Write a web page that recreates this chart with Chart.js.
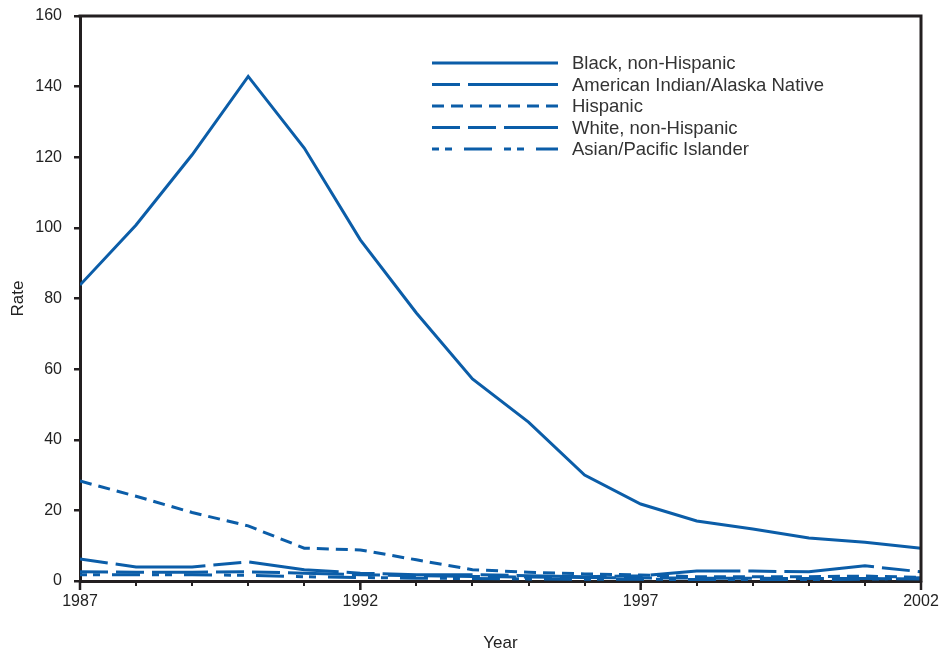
<!DOCTYPE html>
<html>
<head>
<meta charset="utf-8">
<script src="https://cdn.jsdelivr.net/npm/chart.js@4/dist/chart.umd.min.js"></script>
<style>
html,body{margin:0;padding:0;background:#fff;}
#wrap{width:942px;height:652px;position:relative;}
</style>
</head>
<body>
<div id="wrap"><canvas id="c" width="942" height="652"></canvas></div>
<script>
const years = [1987,1988,1989,1990,1991,1992,1993,1994,1995,1996,1997,1998,1999,2000,2001,2002];
const black = [83.8,100.8,120.7,142.9,122.6,96.6,75.9,57.2,45.0,30.0,21.8,17.0,14.7,12.2,11.0,9.3];
const aian = [6.2,4.0,4.0,5.4,3.2,2.2,1.8,1.8,1.5,1.2,1.5,2.8,2.8,2.6,4.3,2.6];
const hispanic = [28.3,24.0,19.4,15.6,9.3,8.8,6.0,3.2,2.5,2.0,1.7,1.2,1.2,1.2,1.4,1.0];
const white = [2.6,2.5,2.5,2.6,2.2,1.8,1.5,1.3,1.1,1.0,0.9,0.8,0.8,0.7,0.7,0.6];
const asian = [1.8,1.8,1.8,1.6,1.2,1.0,0.8,0.7,0.6,0.5,0.5,0.4,0.4,0.4,0.5,0.9];
const seriesLabels = ["Black, non-Hispanic","American Indian/Alaska Native","Hispanic","White, non-Hispanic","Asian/Pacific Islander"];
const labeledYears = [1987,1992,1997,2002];
const yTicks = [0,20,40,60,80,100,120,140,160];

const BLUE = '#0b5da8';
const INK = '#231f20';
const FONT = '"Liberation Sans", Arial, sans-serif';

function pts(vals){ return years.map((y,i)=>({x:y,y:vals[i]})); }
const dashes = [[], [28,8,90,8], [12,7], [28,8,28,8,56,8], [7,6,7,12,28,12]];
const vals = [black, aian, hispanic, white, asian];

const datasets = vals.map((v,i)=>({
  label: seriesLabels[i],
  data: pts(v),
  borderColor: BLUE,
  backgroundColor: BLUE,
  borderWidth: 3,
  borderDash: dashes[i],
  pointRadius: 0,
  tension: 0,
  fill: false
})).reverse();

const framePlugin = {
  id: 'frame',
  afterDraw(chart){
    const ctx = chart.ctx, a = chart.chartArea;
    const xs = chart.scales.x;
    ctx.save();
    ctx.strokeStyle = INK;
    ctx.lineWidth = 3;
    ctx.beginPath();
    ctx.moveTo(a.left-1.5, a.top); ctx.lineTo(a.right+1.5, a.top);
    ctx.moveTo(a.right, a.top); ctx.lineTo(a.right, a.bottom+1.5);
    ctx.stroke();
    ctx.lineWidth = 2.5;
    ctx.beginPath();
    labeledYears.forEach(yr=>{
      const px = xs.getPixelForValue(yr);
      ctx.moveTo(px, a.bottom); ctx.lineTo(px, a.bottom+9);
    });
    ctx.stroke();
    // legend
    const ds = chart.data.datasets.slice().reverse();
    const lx0 = 432, lx1 = 558, tx = 572, y0 = 63, dy = 21.5;
    ctx.font = '18.5px ' + FONT;
    ctx.textBaseline = 'middle';
    ctx.textAlign = 'left';
    ds.forEach((d,i)=>{
      const y = y0 + i*dy;
      ctx.strokeStyle = d.borderColor;
      ctx.lineWidth = 3;
      ctx.setLineDash(d.borderDash);
      ctx.beginPath(); ctx.moveTo(lx0,y); ctx.lineTo(lx1,y); ctx.stroke();
      ctx.setLineDash([]);
      ctx.fillStyle = '#333';
      ctx.fillText(d.label, tx, y+1);
    });
    ctx.restore();
  }
};

new Chart(document.getElementById('c'), {
  type: 'line',
  data: { datasets },
  options: {
    responsive: false,
    animation: false,
    layout: { padding: { left: 8, right: 0, top: 0, bottom: 0 } },
    plugins: { legend: { display: false }, tooltip: { enabled: false } },
    scales: {
      x: {
        type: 'linear', min: 1987, max: 2002,
        afterBuildTicks(s){ s.ticks = years.map(v=>({value:v})); },
        afterFit(s){ s.height = 71; s.paddingLeft = 0; s.paddingRight = 21; },
        grid: { display: true, drawOnChartArea: false, drawTicks: true, tickLength: 5, color: INK, lineWidth: 2 },
        border: { display: true, color: INK, width: 3 },
        ticks: {
          autoSkip: false, maxRotation: 0, padding: 6,
          color: '#222', font: { family: FONT, size: 16 },
          callback: v => labeledYears.includes(v) ? String(v) : ''
        },
        title: { display: true, text: 'Year', color: '#222', font: { family: FONT, size: 17 }, padding: { top: 16, bottom: -2 } }
      },
      y: {
        min: 0, max: 160,
        afterBuildTicks(s){ s.ticks = yTicks.map(v=>({value:v})); },
        afterFit(s){ s.width = 72; s.paddingTop = 16; s.paddingBottom = 0; },
        grid: { display: true, drawOnChartArea: false, drawTicks: true, tickLength: 6, color: INK, lineWidth: 2.5 },
        border: { display: true, color: INK, width: 3 },
        ticks: { padding: 12, color: '#222', font: { family: FONT, size: 16 } },
        title: { display: true, text: 'Rate', color: '#222', font: { family: FONT, size: 17 }, padding: { top: 0, bottom: 7 } }
      }
    }
  },
  plugins: [framePlugin]
});
</script>
</body>
</html>
